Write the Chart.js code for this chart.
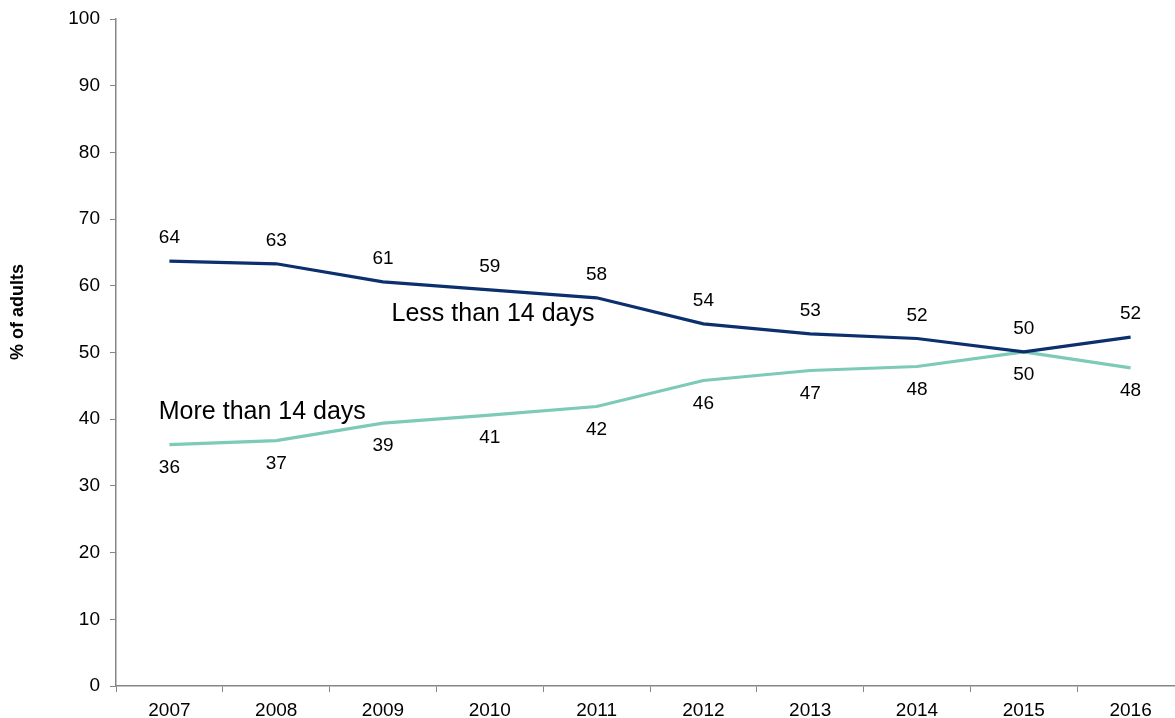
<!DOCTYPE html>
<html>
<head>
<meta charset="utf-8">
<script src="https://cdn.jsdelivr.net/npm/chart.js@4"></script>
<style>
html,body{margin:0;padding:0;background:#fff;overflow:hidden;width:1175px;height:718px;}
#wrap{width:1184px;height:718px;position:relative;}
</style>
</head>
<body>
<div id="wrap"><canvas id="c"></canvas></div>
<script>
const years = ['2007','2008','2009','2010','2011','2012','2013','2014','2015','2016'];
const lessThan14 = [63.7, 63.3, 60.6, 59.4, 58.2, 54.3, 52.8, 52.1, 50.1, 52.3];
const moreThan14 = [36.2, 36.8, 39.4, 40.6, 41.9, 45.8, 47.3, 47.9, 50.1, 47.7];
const lessLabels = ['64','63','61','59','58','54','53','52','50','52'];
const moreLabels = ['36','37','39','41','42','46','47','48','50','48'];
const yTicks = [0,10,20,30,40,50,60,70,80,90,100];

const FONT = '"Liberation Sans", Arial, sans-serif';
const NAVY = '#0c2f6e';
const TEAL = '#7dcab8';
const AXIS = '#868686';

const labelPlugin = {
  id: 'labels',
  afterDatasetsDraw(chart) {
    const ctx = chart.ctx;
    const x = chart.scales.x, y = chart.scales.y;
    ctx.save();
    ctx.fillStyle = '#000';
    ctx.font = '19px ' + FONT;
    ctx.textAlign = 'center';
    ctx.textBaseline = 'middle';
    years.forEach((yr, i) => {
      const px = x.getPixelForValue(i);
      ctx.fillText(lessLabels[i], px, y.getPixelForValue(lessThan14[i]) - 23);
      ctx.fillText(moreLabels[i], px, y.getPixelForValue(moreThan14[i]) + 23);
    });
    ctx.font = '25px ' + FONT;
    ctx.fillText('Less than 14 days', x.getPixelForValue(3.03), y.getPixelForValue(55.8));
    ctx.fillText('More than 14 days', x.getPixelForValue(0.87), y.getPixelForValue(41.0));
    ctx.save();
    ctx.translate(18, 312);
    ctx.rotate(-Math.PI / 2);
    ctx.font = 'bold 18px ' + FONT;
    ctx.fillText('% of adults', 0, 0);
    ctx.restore();
    ctx.restore();
  }
};

new Chart(document.getElementById('c'), {
  type: 'line',
  data: {
    labels: years,
    datasets: [
      { label: 'Less than 14 days', data: lessThan14, borderColor: NAVY, borderWidth: 3.2, pointRadius: 0, tension: 0, fill: false },
      { label: 'More than 14 days', data: moreThan14, borderColor: TEAL, borderWidth: 3.2, pointRadius: 0, tension: 0, fill: false }
    ]
  },
  options: {
    responsive: true,
    maintainAspectRatio: false,
    animation: false,
    layout: { padding: { top: 19, right: 0, bottom: 0, left: 0 } },
    plugins: { legend: { display: false }, tooltip: { enabled: false } },
    scales: {
      x: {
        offset: true,
        afterFit: s => { s.height = 32; s.paddingLeft = 0; s.paddingRight = 0; },
        grid: { offset: true, drawOnChartArea: false, drawTicks: true, tickLength: 6, color: AXIS, tickColor: AXIS },
        border: { color: AXIS, width: 1.5 },
        ticks: { color: '#000', font: { family: FONT, size: 19 }, padding: 7, maxRotation: 0 }
      },
      y: {
        min: 0, max: 100,
        afterBuildTicks: s => { s.ticks = yTicks.map(v => ({ value: v })); },
        afterFit: s => { s.width = 116; s.paddingTop = 0; s.paddingBottom = 0; },
        grid: { drawOnChartArea: false, drawTicks: true, tickLength: 6, color: AXIS, tickColor: AXIS },
        border: { color: AXIS, width: 1.5 },
        ticks: { color: '#000', font: { family: FONT, size: 19 }, padding: 10 }
      }
    }
  },
  plugins: [labelPlugin]
});
</script>
</body>
</html>
